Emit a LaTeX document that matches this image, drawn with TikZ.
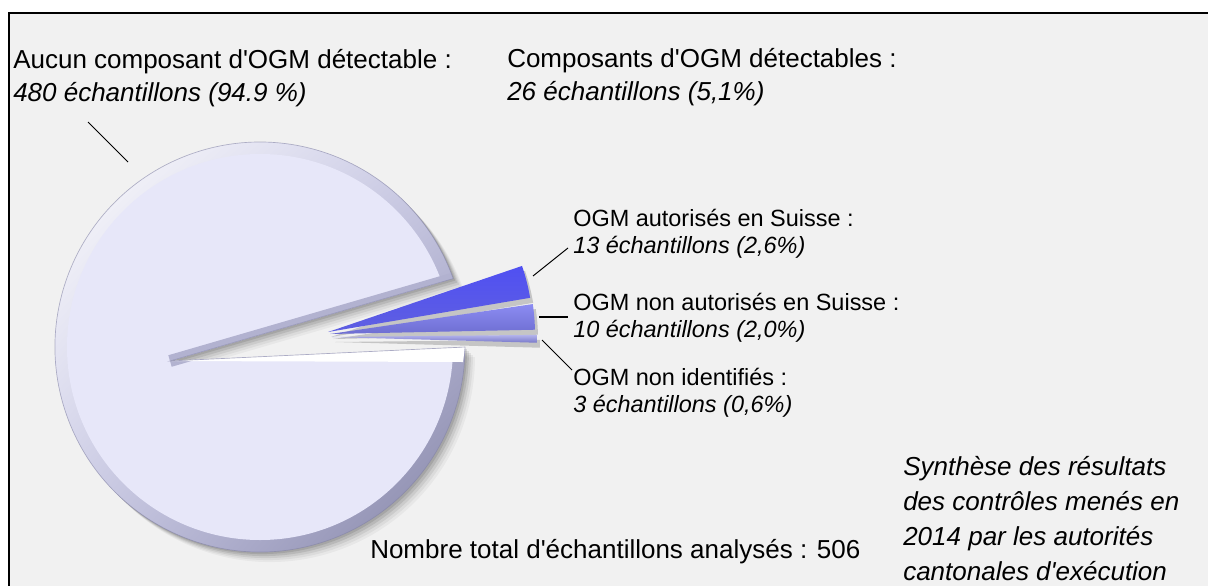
\documentclass[tikz,border=0pt]{standalone}
\usepackage{fontspec}
\setmainfont{Liberation Sans}[Ligatures=TeXOff]
\usetikzlibrary{calc,shadings}
\definecolor{bgc}{RGB}{241,241,241}
\definecolor{lav}{RGB}{231,231,249}
\definecolor{rimdark}{RGB}{130,130,165}
\definecolor{rimmid}{RGB}{202,202,230}
\definecolor{gapband}{RGB}{178,178,208}
\newcommand\piepath{(170,361) -- (453.2,278.6) arc[start angle=-19.5, end angle=-360, radius=205] -- cycle}
\newcommand\bluewedge[4]{(#1,#2) -- ++(#3:205) arc[start angle=#3, end angle=#4, radius=205] -- cycle}
\begin{document}
\begin{tikzpicture}[x=0.75pt,y=-0.75pt,
  big/.style={font=\fontsize{19.5}{23}\selectfont, inner sep=0pt, anchor=base west, text=black},
  bigit/.style={big, font=\fontsize{19.5}{23}\selectfont\itshape},
  small/.style={font=\fontsize{17.6}{20}\selectfont, inner sep=0pt, anchor=base west, text=black},
  smallit/.style={small, font=\fontsize{17.6}{20}\selectfont\itshape},
  leader/.style={draw=black, line width=0.75pt},
  shadowfill/.style={fill=black, opacity=#1}]
\useasboundingbox (0,0) rectangle (1208,586);
\fill[white] (0,0) rectangle (1208,586);
\fill[bgc] (9,13) rectangle (1208,586);
\draw[line width=1.5pt] (9,586) -- (9,13) -- (1208,13);

% big slice shadow
\foreach \d/\o in {10/0.04,8/0.05,6/0.07,4/0.09,2/0.1}{
  \fill[shadowfill=\o, shift={(\d,\d)}] \piepath;
}
% big slice body
\begin{scope}
  \clip \piepath;
  \shade[upper left=white, upper right=rimmid, lower left=rimmid, lower right=rimdark] (55,142) rectangle (465,552);
  \fill[lav] (260,347) circle[radius=193];
  \draw[line width=9pt, color=gapband] (170,361) -- (453.2,278.6);
  \fill[white] (170,361) -- (465,347) -- (463,362) -- cycle;
\end{scope}
\draw[rimdark, line width=0.5pt, opacity=0.6] \piepath;

% blue wedges shadows
\fill[shadowfill=0.18, shift={(3,5)}] \bluewedge{328}{332}{-18.8}{-9.6};
\fill[shadowfill=0.18, shift={(3,5)}] \bluewedge{330}{334}{-8.4}{-1.2};
\fill[shadowfill=0.18, shift={(3,5)}] \bluewedge{332}{337}{-0.6}{1.6};
% blue wedges
\shade[top color={rgb,255:red,80;green,80;blue,242}, middle color={rgb,255:red,45;green,45;blue,200}, bottom color={rgb,255:red,95;green,95;blue,225}] \bluewedge{328}{332}{-18.8}{-9.6};
\shade[top color={rgb,255:red,140;green,140;blue,242}, middle color={rgb,255:red,80;green,80;blue,212}, bottom color={rgb,255:red,110;green,110;blue,210}] \bluewedge{330}{334}{-8.4}{-1.2};
\shade[top color={rgb,255:red,180;green,180;blue,236}, bottom color={rgb,255:red,120;green,120;blue,202}] \bluewedge{332}{337}{-0.6}{1.6};

% labels
\node[big] (t1a) at (13,68) {Aucun composant d'OGM détectable :};
\node[bigit] (t1b) at (13,101) {480 échantillons (94.9 \%)};
\node[big] (t2a) at (507,67) {Composants d'OGM détectables :};
\node[bigit] (t2b) at (507,100) {26 échantillons (5,1\%)};
\node[small] (t3a) at (573,226) {OGM autorisés en Suisse :};
\node[smallit] (t3b) at (573,253) {13 échantillons (2,6\%)};
\node[small] (t4a) at (573,310) {OGM non autorisés en Suisse :};
\node[smallit] (t4b) at (573,337) {10 échantillons (2,0\%)};
\node[small] (t5a) at (573,385) {OGM non identifiés :};
\node[smallit] (t5b) at (573,412) {3 échantillons (0,6\%)};
\node[big] (t6) at (370,558) {Nombre total d'échantillons analysés : 506};
\node[bigit] (t7a) at (903,475) {Synthèse des résultats};
\node[bigit] (t7b) at (903,510) {des contrôles menés en};
\node[bigit] (t7c) at (903,545) {2014 par les autorités};
\node[bigit] (t7d) at (903,580) {cantonales d'exécution};

% leaders
\coordinate (p1) at (128,162); \coordinate (q1) at (88,122);
\coordinate (p2) at (533,276); \coordinate (q2) at (568,248);
\coordinate (p3) at (539,317); \coordinate (q3) at (568,317);
\coordinate (p4) at (542,340); \coordinate (q4) at (572,370);
\draw[leader] (p1) -- (q1);
\draw[leader] (p2) -- (q2);
\draw[leader, line width=1.5pt] (p3) -- (q3);
\draw[leader] (p4) -- (q4);
\end{tikzpicture}
\end{document}
